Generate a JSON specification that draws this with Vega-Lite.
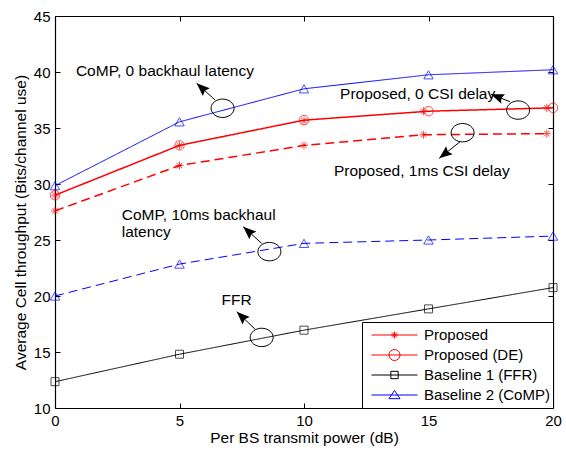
{
  "$schema": "https://vega.github.io/schema/vega-lite/v6.json",
  "width": 498,
  "height": 392,
  "autosize": "none",
  "padding": {"left": 55, "top": 16, "right": 13, "bottom": 43},
  "background": "white",
  "datasets": {
    "curves": [
      {"s": "P", "x": 0, "y": 29.0},
      {"s": "P", "x": 5, "y": 33.45},
      {"s": "P", "x": 10, "y": 35.65},
      {"s": "P", "x": 14.8, "y": 36.5},
      {"s": "P", "x": 19.75, "y": 36.8},
      {"s": "DE", "x": 0, "y": 29.0},
      {"s": "DE", "x": 5, "y": 33.45},
      {"s": "DE", "x": 10, "y": 35.7},
      {"s": "DE", "x": 15, "y": 36.5},
      {"s": "DE", "x": 20, "y": 36.8},
      {"s": "P1ms", "x": 0, "y": 27.6},
      {"s": "P1ms", "x": 5, "y": 31.65},
      {"s": "P1ms", "x": 10, "y": 33.45},
      {"s": "P1ms", "x": 14.8, "y": 34.4},
      {"s": "P1ms", "x": 19.75, "y": 34.5},
      {"s": "FFR", "x": 0, "y": 12.35},
      {"s": "FFR", "x": 5, "y": 14.8},
      {"s": "FFR", "x": 10, "y": 16.95},
      {"s": "FFR", "x": 15, "y": 18.85},
      {"s": "FFR", "x": 20, "y": 20.75},
      {"s": "CoMP", "x": 0, "y": 29.85},
      {"s": "CoMP", "x": 5, "y": 35.55},
      {"s": "CoMP", "x": 10, "y": 38.5},
      {"s": "CoMP", "x": 15, "y": 39.75},
      {"s": "CoMP", "x": 20, "y": 40.2},
      {"s": "CoMP10", "x": 0, "y": 20.0},
      {"s": "CoMP10", "x": 5, "y": 22.85},
      {"s": "CoMP10", "x": 10, "y": 24.7},
      {"s": "CoMP10", "x": 15, "y": 25.0},
      {"s": "CoMP10", "x": 20, "y": 25.35}
    ],
    "ellipses": [
      {"x": 6.73, "y": 36.76},
      {"x": 18.6, "y": 36.6},
      {"x": 16.37, "y": 34.58},
      {"x": 8.61, "y": 23.96},
      {"x": 8.3, "y": 16.3}
    ],
    "arrows": [
      {"x": 6.43, "y": 37.5, "xh": 5.69, "yh": 38.99},
      {"x": 18.27, "y": 37.35, "xh": 17.51, "yh": 38.01},
      {"x": 16.27, "y": 33.78, "xh": 15.43, "yh": 32.29},
      {"x": 8.3, "y": 24.7, "xh": 7.56, "yh": 26.19},
      {"x": 8.03, "y": 17.05, "xh": 7.3, "yh": 18.6}
    ],
    "labels": [
      {"t": "CoMP, 0 backhaul latency", "x": 0.84, "y": 40.09},
      {"t": "Proposed, 0 CSI delay", "x": 11.45, "y": 38.0},
      {"t": "Proposed, 1ms CSI delay", "x": 11.2, "y": 31.19},
      {"t": "CoMP, 10ms backhaul", "x": 2.68, "y": 27.23},
      {"t": "latency", "x": 2.68, "y": 25.74},
      {"t": "FFR", "x": 6.69, "y": 19.64}
    ],
    "legend": [
      {"name": "Proposed"},
      {"name": "Proposed (DE)"},
      {"name": "Baseline 1 (FFR)"},
      {"name": "Baseline 2 (CoMP)"}
    ]
  },
  "config": {
    "view": {"stroke": null},
    "font": "Liberation Sans",
    "axis": {
      "grid": false,
      "domainColor": "#000000",
      "domainWidth": 1.2,
      "tickColor": "#000000",
      "tickWidth": 1,
      "tickSize": -5,
      "labelPadding": 10,
      "labelColor": "#000000",
      "titleColor": "#000000",
      "labelFont": "Liberation Sans",
      "titleFont": "Liberation Sans",
      "labelFontSize": 15,
      "titleFontSize": 15.5,
      "titleFontWeight": "normal",
      "labelFlush": false
    },
    "legend": {
      "orient": "bottom-right",
      "offset": 0,
      "padding": 3,
      "strokeColor": "#000000",
      "fillColor": "#ffffff",
      "symbolSize": 2116,
      "clipHeight": 20,
      "rowPadding": 0,
      "labelFont": "Liberation Sans",
      "labelFontSize": 15,
      "labelColor": "#000000",
      "symbolOffset": 6,
      "labelOffset": 6,
      "symbolStrokeWidth": 1,
      "symbolOpacity": 1
    }
  },
  "resolve": {"axis": {"x": "independent", "y": "independent"}},
  "layer": [
    {
      "data": {"name": "curves"},
      "transform": [{"filter": "datum.s === 'DE' || datum.s === 'P1ms'"}],
      "mark": {"type": "line", "strokeWidth": 1.5},
      "encoding": {
        "x": {"field": "x", "type": "quantitative", "scale": {"domain": [0, 20], "nice": false, "zero": false},
              "axis": {"orient": "bottom", "values": [0, 5, 10, 15, 20], "title": "Per BS transmit power (dB)", "titlePadding": 2}},
        "y": {"field": "y", "type": "quantitative", "scale": {"domain": [10, 45], "nice": false, "zero": false},
              "axis": {"orient": "left", "values": [10, 15, 20, 25, 30, 35, 40, 45], "title": "Average Cell throughput (Bits/channel use)", "titlePadding": 5, "titleY": 206}},
        "color": {"field": "s", "type": "nominal", "legend": null,
                  "scale": {"domain": ["P", "DE", "P1ms", "FFR", "CoMP", "CoMP10"], "range": ["#ff0000", "#ff0000", "#ff0000", "#000000", "#0000ff", "#0000ff"]}},
        "strokeDash": {"field": "s", "type": "nominal", "legend": null,
                  "scale": {"domain": ["P", "DE", "P1ms", "FFR", "CoMP", "CoMP10"], "range": [[1, 0], [1, 0], [9, 5], [1, 0], [1, 0], [9, 5]]}}
      }
    },
    {
      "data": {"name": "curves"},
      "transform": [{"filter": "datum.s === 'FFR' || datum.s === 'CoMP' || datum.s === 'CoMP10'"}],
      "mark": {"type": "line", "strokeWidth": 1},
      "encoding": {
        "x": {"field": "x", "type": "quantitative", "scale": {"domain": [0, 20], "nice": false, "zero": false},
              "axis": {"orient": "top", "values": [0, 5, 10, 15, 20], "labels": false, "title": null}},
        "y": {"field": "y", "type": "quantitative", "scale": {"domain": [10, 45], "nice": false, "zero": false},
              "axis": {"orient": "right", "values": [10, 15, 20, 25, 30, 35, 40, 45], "labels": false, "title": null}},
        "color": {"field": "s", "type": "nominal", "legend": null},
        "strokeDash": {"field": "s", "type": "nominal", "legend": null}
      }
    },
    {
      "data": {"name": "curves"},
      "transform": [{"filter": "datum.s === 'P' || datum.s === 'P1ms'"}],
      "mark": {"type": "point", "filled": false, "size": 64, "strokeWidth": 1,
               "shape": "M -1 0 L 1 0 M 0 -1 L 0 1 M -0.7 -0.7 L 0.7 0.7 M -0.7 0.7 L 0.7 -0.7"},
      "encoding": {
        "x": {"field": "x", "type": "quantitative", "scale": {"domain": [0, 20], "nice": false, "zero": false}, "axis": null},
        "y": {"field": "y", "type": "quantitative", "scale": {"domain": [10, 45], "nice": false, "zero": false}, "axis": null},
        "color": {"field": "s", "type": "nominal", "legend": null}
      }
    },
    {
      "data": {"name": "curves"},
      "transform": [{"filter": "datum.s === 'DE'"}],
      "mark": {"type": "point", "filled": false, "size": 90, "strokeWidth": 1, "shape": "circle"},
      "encoding": {
        "x": {"field": "x", "type": "quantitative", "scale": {"domain": [0, 20], "nice": false, "zero": false}, "axis": null},
        "y": {"field": "y", "type": "quantitative", "scale": {"domain": [10, 45], "nice": false, "zero": false}, "axis": null},
        "color": {"field": "s", "type": "nominal", "legend": null}
      }
    },
    {
      "data": {"name": "curves"},
      "transform": [{"filter": "datum.s === 'FFR'"}],
      "mark": {"type": "point", "filled": false, "size": 64, "strokeWidth": 1, "shape": "square"},
      "encoding": {
        "x": {"field": "x", "type": "quantitative", "scale": {"domain": [0, 20], "nice": false, "zero": false}, "axis": null},
        "y": {"field": "y", "type": "quantitative", "scale": {"domain": [10, 45], "nice": false, "zero": false}, "axis": null},
        "color": {"field": "s", "type": "nominal", "legend": null}
      }
    },
    {
      "data": {"name": "curves"},
      "transform": [{"filter": "datum.s === 'CoMP' || datum.s === 'CoMP10'"}],
      "mark": {"type": "point", "filled": false, "size": 90, "strokeWidth": 1, "shape": "triangle-up"},
      "encoding": {
        "x": {"field": "x", "type": "quantitative", "scale": {"domain": [0, 20], "nice": false, "zero": false}, "axis": null},
        "y": {"field": "y", "type": "quantitative", "scale": {"domain": [10, 45], "nice": false, "zero": false}, "axis": null},
        "color": {"field": "s", "type": "nominal", "legend": null}
      }
    },
    {
      "data": {"name": "ellipses"},
      "mark": {"type": "point", "filled": false, "size": 529, "strokeWidth": 1, "color": "#000000", "opacity": 1,
               "shape": "M -1 0 A 1 0.8 0 1 0 1 0 A 1 0.8 0 1 0 -1 0 Z"},
      "encoding": {
        "x": {"field": "x", "type": "quantitative", "scale": {"domain": [0, 20], "nice": false, "zero": false}, "axis": null},
        "y": {"field": "y", "type": "quantitative", "scale": {"domain": [10, 45], "nice": false, "zero": false}, "axis": null}
      }
    },
    {
      "data": {"name": "arrows"},
      "mark": {"type": "rule", "strokeWidth": 1, "color": "#000000"},
      "encoding": {
        "x": {"field": "x", "type": "quantitative", "scale": {"domain": [0, 20], "nice": false, "zero": false}, "axis": null},
        "y": {"field": "y", "type": "quantitative", "scale": {"domain": [10, 45], "nice": false, "zero": false}, "axis": null},
        "x2": {"field": "xh"},
        "y2": {"field": "yh"}
      }
    },
    {
      "data": {"name": "arrows"},
      "transform": [{"calculate": "atan2((datum.xh - datum.x) * 24.9, (datum.yh - datum.y) * 11.2) * 180 / PI", "as": "ang"}],
      "mark": {"type": "point", "filled": true, "size": 676, "color": "#000000", "opacity": 1, "strokeWidth": 0,
               "shape": "M 0 0 L 0.4 1 L 0 0.85 L -0.4 1 Z"},
      "encoding": {
        "x": {"field": "xh", "type": "quantitative", "scale": {"domain": [0, 20], "nice": false, "zero": false}, "axis": null},
        "y": {"field": "yh", "type": "quantitative", "scale": {"domain": [10, 45], "nice": false, "zero": false}, "axis": null},
        "angle": {"field": "ang", "type": "quantitative", "scale": null}
      }
    },
    {
      "data": {"name": "labels"},
      "mark": {"type": "text", "align": "left", "baseline": "middle", "font": "Liberation Sans", "fontSize": 15.5, "color": "#000000"},
      "encoding": {
        "x": {"field": "x", "type": "quantitative", "scale": {"domain": [0, 20], "nice": false, "zero": false}, "axis": null},
        "y": {"field": "y", "type": "quantitative", "scale": {"domain": [10, 45], "nice": false, "zero": false}, "axis": null},
        "text": {"field": "t"}
      }
    },
    {
      "data": {"name": "legend"},
      "mark": {"type": "point", "filled": false, "opacity": 0},
      "encoding": {
        "stroke": {"field": "name", "type": "nominal", "title": null,
                   "legend": {"labelExpr": "datum.label + '\u00a0\u00a0'"},
                   "scale": {"domain": ["Proposed", "Proposed (DE)", "Baseline 1 (FFR)", "Baseline 2 (CoMP)"], "range": ["#ff0000", "#ff0000", "#000000", "#0000ff"]}},
        "shape": {"field": "name", "type": "nominal", "title": null,
                  "legend": {"labelExpr": "datum.label + '\u00a0\u00a0'"},
                  "scale": {"domain": ["Proposed", "Proposed (DE)", "Baseline 1 (FFR)", "Baseline 2 (CoMP)"],
                            "range": [
                              "M -1 0 L 1 0 M -0.15 0 L 0.15 0 M 0 -0.15 L 0 0.15 M -0.11 -0.11 L 0.11 0.11 M -0.11 0.11 L 0.11 -0.11",
                              "M -1 0 L 1 0 M -0.24 0 A 0.24 0.24 0 1 0 0.24 0 A 0.24 0.24 0 1 0 -0.24 0",
                              "M -1 0 L 1 0 M -0.16 -0.16 L 0.16 -0.16 L 0.16 0.16 L -0.16 0.16 Z",
                              "M -1 0 L 1 0 M 0 -0.2 L 0.24 0.16 L -0.24 0.16 Z"
                            ]}}
      }
    }
  ]
}
